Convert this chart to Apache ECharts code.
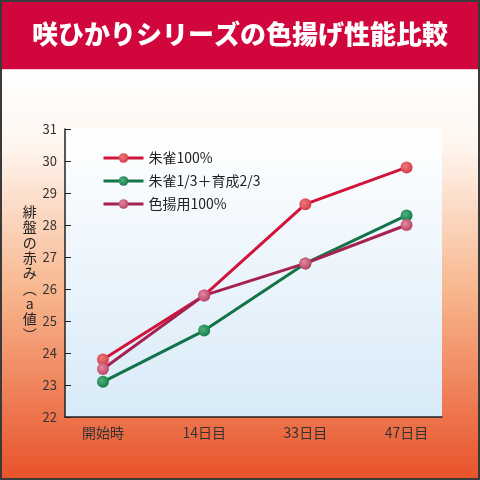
<!DOCTYPE html>
<html>
<head>
<meta charset="utf-8">
<script src="https://cdn.jsdelivr.net/npm/echarts@6/dist/echarts.min.js"></script>
<style>
  html, body { margin: 0; padding: 0; }
  #chart { width: 480px; height: 480px; }
</style>
</head>
<body>
<div id="chart"></div>
<script>
// 経過日数
const categories = ['開始時', '14日目', '33日目', '47日目']
// 緋盤の赤み（a値）
const suzaku = [23.8, 25.8, 28.65, 29.8]
const mixed = [23.1, 24.7, 26.8, 28.3]
const iroage = [23.5, 25.8, 26.8, 28.0]
const yTicks = [22, 31]

const seriesNames = ['朱雀100%', '朱雀1/3＋育成2/3', '色揚用100%']
const font = '"Noto Sans CJK JP", "Noto Sans", sans-serif'

// 丸マーカー用のグラデーション
function ball(light, dark) {
  return {
    type: 'radial', x: 0.4, y: 0.4, r: 0.65,
    colorStops: [{ offset: 0, color: light }, { offset: 1, color: dark }]
  }
}

function lineSeries(name, values, lineColor, light, dark) {
  return {
    name: name,
    type: 'line',
    data: values.map((v, i) => [i, v]),
    symbol: 'circle',
    symbolSize: 12,
    lineStyle: { color: lineColor, width: 3 },
    itemStyle: { color: ball(light, dark), borderWidth: 0 },
    emphasis: { disabled: true }
  }
}

const chart = echarts.init(document.getElementById('chart'))

chart.setOption({
  animation: false,
  backgroundColor: {
    type: 'linear', x: 0, y: 0, x2: 0, y2: 1,
    colorStops: [
      { offset: 0, color: '#d0063c' },
      { offset: 0.144, color: '#d0063c' },
      { offset: 0.145, color: '#ffffff' },
      { offset: 0.3, color: '#fff6f0' },
      { offset: 0.6, color: '#f8b890' },
      { offset: 1, color: '#e8522a' }
    ]
  },
  title: {
    text: '咲ひかりシリーズの色揚げ性能比較',
    left: 'center',
    top: 21,
    padding: 0,
    textStyle: { color: '#fff', fontSize: 26, fontWeight: 900, fontFamily: font }
  },
  graphic: [{
    type: 'rect',
    shape: { x: 1, y: 1, width: 478, height: 478 },
    style: { fill: 'none', stroke: '#3a3a3a', lineWidth: 2 },
    z: 100
  }],
  legend: {
    orient: 'vertical',
    left: 97,
    top: 146,
    itemWidth: 40,
    itemHeight: 12,
    itemGap: 9,
    data: seriesNames,
    lineStyle: { width: 3 },
    textStyle: { fontSize: 14, color: '#222', fontFamily: font }
  },
  grid: {
    left: 65, right: 38, top: 129, bottom: 63,
    show: true,
    borderWidth: 0,
    backgroundColor: {
      type: 'linear', x: 0, y: 0, x2: 0, y2: 1,
      colorStops: [{ offset: 0, color: '#ffffff' }, { offset: 1, color: '#d8eaf8' }]
    }
  },
  xAxis: {
    type: 'value',
    min: -0.375,
    max: 3.35,
    axisLine: { show: true, onZero: false, lineStyle: { color: '#222', width: 1.5 } },
    axisTick: { show: false },
    splitLine: { show: false },
    axisLabel: {
      customValues: categories.map((c, i) => i),
      formatter: v => categories[v],
      margin: 9,
      fontSize: 14,
      color: '#333',
      fontFamily: font
    }
  },
  yAxis: {
    type: 'value',
    min: yTicks[0],
    max: yTicks[1],
    interval: 1,
    name: '緋盤の赤み︵a値︶'.split('').join('\n'),
    nameLocation: 'middle',
    nameRotate: 0,
    nameGap: 25,
    nameTextStyle: { fontSize: 14, lineHeight: 15.3, color: '#222', fontFamily: font, align: 'center' },
    axisLine: { show: true, onZero: false, lineStyle: { color: '#222', width: 1.5 } },
    axisTick: { show: true, inside: true, length: 6, lineStyle: { color: '#222' } },
    splitLine: { show: false },
    axisLabel: { margin: 8, fontSize: 13, color: '#333', fontFamily: font }
  },
  series: [
    lineSeries(seriesNames[0], suzaku, '#d2143a', '#f07a78', '#d23848'),
    lineSeries(seriesNames[1], mixed, '#137449', '#4cb27a', '#17784a'),
    lineSeries(seriesNames[2], iroage, '#a5214f', '#e08aa0', '#b84066')
  ]
})
</script>
</body>
</html>
